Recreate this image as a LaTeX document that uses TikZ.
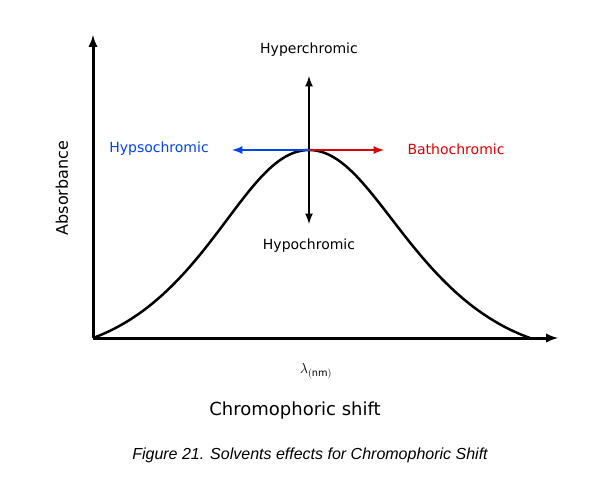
\documentclass[tikz,border=0pt]{standalone}
\usepackage{fontspec}
\setmainfont{DejaVu Sans}
\newfontfamily\capfont{Liberation Sans}
\tikzset{
  axis/.style = {draw=black, line width=3pt, -latex},
  shiftarrow/.style = {line width=2.5pt, -latex},
  lbl/.style = {font=\fontsize{14}{16}\selectfont, inner sep=1pt}
}
\begin{document}
\begin{tikzpicture}[x=1pt, y=-1pt]
        \useasboundingbox[fill=white] (0,0) rectangle (611,485);
        \coordinate (origin) at (93,338);
        \coordinate (ytip)   at (93,35);
        \coordinate (xtip)   at (558,338);
        \coordinate (peak)   at (309,150);
        \coordinate (tail)   at (530,338);
        \coordinate (uptip)  at (309,76);
        \coordinate (downtip) at (309,224);
        \coordinate (blueend) at (232,150);
        \coordinate (redend)  at (384,150);

        \node [lbl]              (hyper) at (309,50)  {Hyperchromic};
        \node [lbl]              (hypo)  at (309,246) {Hypochromic};
        \node [lbl, text=blue!70!cyan!90!black] (hypso) at (159,149) {Hypsochromic};
        \node [lbl, text=red!85!black]          (batho) at (456,149) {Bathochromic};
        \node [lbl, rotate=90, font=\fontsize{16}{18}\selectfont] (absorb) at (62,188) {Absorbance};
        \node [lbl]              (lambda) at (316,371) {$\lambda_{\mathrm{(nm)}}$};
        \node [font=\fontsize{18}{20}\selectfont] (xlabel) at (295,411) {Chromophoric shift};
        \node [font=\capfont\itshape\fontsize{16}{18}\selectfont] (caption) at (310,455)
          {Figure 21. Solvents effects for Chromophoric Shift};

        \draw[axis] (origin) -- (ytip);
        \draw[axis] (origin) -- (xtip);
        \draw[line width=2.5pt] (origin) .. controls (210,295) and (245,150) .. (peak)
          .. controls (373,150) and (410,295) .. (tail);
        \draw[shiftarrow,latex-latex] (uptip) -- (downtip);
        \draw[shiftarrow,color=blue!70!cyan!90!black] (peak) -- (blueend);
        \draw[shiftarrow,color=red!85!black] (peak) -- (redend);
      \end{tikzpicture}
\end{document}
